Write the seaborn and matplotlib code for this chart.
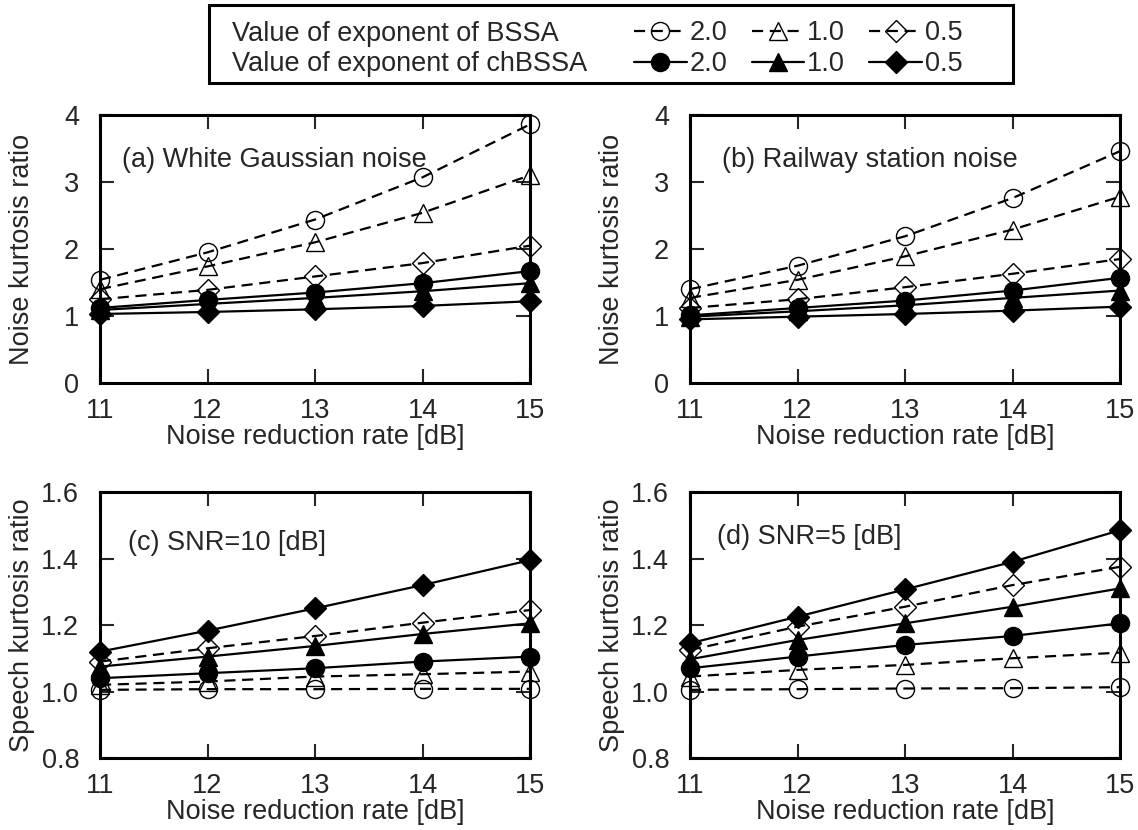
import matplotlib
matplotlib.use("Agg")
import matplotlib.pyplot as plt
from matplotlib.lines import Line2D
from matplotlib.patches import Rectangle
import pandas as pd
import seaborn as sns

# noise reduction rate [dB]
nrr = [11, 12, 13, 14, 15]

# (a) white gaussian noise - noise kurtosis ratio
a_bssa_20 = [1.54, 1.95, 2.44, 3.07, 3.86]
a_bssa_10 = [1.40, 1.74, 2.10, 2.54, 3.10]
a_bssa_05 = [1.25, 1.39, 1.59, 1.79, 2.05]
a_ch_20 = [1.12, 1.24, 1.35, 1.49, 1.67]
a_ch_10 = [1.09, 1.18, 1.27, 1.37, 1.49]
a_ch_05 = [1.03, 1.06, 1.10, 1.15, 1.22]

# (b) railway station noise - noise kurtosis ratio
b_bssa_20 = [1.40, 1.75, 2.19, 2.76, 3.46]
b_bssa_10 = [1.27, 1.54, 1.89, 2.29, 2.78]
b_bssa_05 = [1.12, 1.25, 1.43, 1.63, 1.85]
b_ch_20 = [1.01, 1.12, 1.23, 1.38, 1.57]
b_ch_10 = [0.99, 1.07, 1.16, 1.27, 1.38]
b_ch_05 = [0.95, 0.99, 1.03, 1.08, 1.14]

# (c) SNR=10 dB - speech kurtosis ratio
c_bssa_20 = [1.005, 1.007, 1.007, 1.008, 1.008]
c_bssa_10 = [1.020, 1.030, 1.045, 1.052, 1.060]
c_bssa_05 = [1.090, 1.130, 1.167, 1.207, 1.245]
c_ch_20 = [1.040, 1.055, 1.070, 1.090, 1.105]
c_ch_10 = [1.075, 1.105, 1.137, 1.173, 1.205]
c_ch_05 = [1.120, 1.183, 1.250, 1.320, 1.395]

# (d) SNR=5 dB - speech kurtosis ratio
d_bssa_20 = [1.005, 1.007, 1.009, 1.010, 1.013]
d_bssa_10 = [1.045, 1.065, 1.080, 1.100, 1.117]
d_bssa_05 = [1.125, 1.195, 1.255, 1.320, 1.375]
d_ch_20 = [1.070, 1.105, 1.140, 1.167, 1.205]
d_ch_10 = [1.097, 1.155, 1.205, 1.255, 1.310]
d_ch_05 = [1.145, 1.225, 1.307, 1.390, 1.485]

panel_titles = ["(a) White Gaussian noise", "(b) Railway station noise",
                "(c) SNR=10 [dB]", "(d) SNR=5 [dB]"]
exponents = ["2.0", "1.0", "0.5"]
legend_rows = ["Value of exponent of BSSA", "Value of exponent of chBSSA"]

panels = [
    [a_bssa_20, a_bssa_10, a_bssa_05, a_ch_20, a_ch_10, a_ch_05],
    [b_bssa_20, b_bssa_10, b_bssa_05, b_ch_20, b_ch_10, b_ch_05],
    [c_bssa_20, c_bssa_10, c_bssa_05, c_ch_20, c_ch_10, c_ch_05],
    [d_bssa_20, d_bssa_10, d_bssa_05, d_ch_20, d_ch_10, d_ch_05],
]

sns.set_style("ticks")
plt.rcParams["font.family"] = ["Liberation Sans", "DejaVu Sans"]

W, H = 1138, 830
FS = 19.5

marker_shapes = ["o", "^", "D"]
marker_sizes = [13, 13, 11]
dash = (0, (5, 3))

fig = plt.figure(figsize=(W / 100, H / 100), dpi=100)
# axes boxes in pixels: left, top, right, bottom
boxes = [(100, 115, 530, 383), (690, 115, 1120, 383),
         (100, 492, 530, 758), (690, 492, 1120, 758)]
text_pos = [(0.051, 0.832), (0.074, 0.832), (0.065, 0.81), (0.063, 0.83)]

for i, series in enumerate(panels):
    l, t, r, b = boxes[i]
    ax = fig.add_axes([l / W, 1 - b / H, (r - l) / W, (b - t) / H])
    for j, vals in enumerate(series):
        k = j % 3
        open_marker = j < 3
        df = pd.DataFrame({"x": nrr, "y": vals})
        sns.lineplot(data=df, x="x", y="y", ax=ax, color="black",
                     linewidth=1.6, linestyle=dash if open_marker else "-",
                     marker=marker_shapes[k], markersize=marker_sizes[k],
                     markerfacecolor="none" if open_marker else "black",
                     markeredgecolor="black", markeredgewidth=1.0,
                     clip_on=False, zorder=3)
    ax.set_xlim(11, 15)
    ax.set_xticks(nrr)
    if i < 2:
        ax.set_ylim(0, 4)
        ax.set_yticks([0, 1, 2, 3, 4])
        ax.set_ylabel("Noise kurtosis ratio", fontsize=FS)
    else:
        ax.set_ylim(0.8, 1.6)
        ax.set_yticks([0.8, 1.0, 1.2, 1.4, 1.6])
        ax.set_yticklabels(["0.8", "1.0", "1.2", "1.4", "1.6"])
        ax.set_ylabel("Speech kurtosis ratio", fontsize=FS)
    ax.yaxis.set_label_coords(-0.151, 0.5)
    ax.set_xlabel("Noise reduction rate [dB]", fontsize=FS, labelpad=0)
    ax.tick_params(direction="in", length=10, width=1.5, labelsize=FS,
                   top=True, right=True)
    ax.tick_params(axis="x", pad=11)
    ax.tick_params(axis="y", pad=15)
    for s in ax.spines.values():
        s.set_linewidth(2.2)
        s.set_color("black")
    ax.text(text_pos[i][0], text_pos[i][1], panel_titles[i], transform=ax.transAxes,
            fontsize=FS, va="center", ha="left")

# legend: frame and row labels drawn on the figure, markers in 3 columns
fig.patches.append(Rectangle((209 / W, 1 - 83 / H), (1013 - 209) / W, 78 / H,
                             transform=fig.transFigure, fill=False,
                             edgecolor="black", linewidth=2.2))
for r, txt in enumerate(legend_rows):
    fig.text(232 / W, 1 - (34 + 30 * r) / H, txt, fontsize=FS,
             ha="left", va="center")

handles, labels = [], []
for k in range(3):
    handles.append(Line2D([], [], color="black", linestyle=dash, linewidth=1.6,
                          marker=marker_shapes[k], markersize=marker_sizes[k],
                          markerfacecolor="none", markeredgecolor="black"))
    handles.append(Line2D([], [], color="black", linestyle="-", linewidth=1.6,
                          marker=marker_shapes[k], markersize=marker_sizes[k],
                          markerfacecolor="black", markeredgecolor="black"))
    labels += [exponents[k], exponents[k]]

fig.legend(handles, labels, ncol=3, loc="upper left",
           bbox_to_anchor=(634 / W, 1 - 20 / H), fontsize=FS, frameon=False,
           handlelength=1.95, handletextpad=0.1, columnspacing=0.9,
           labelspacing=0.2, borderpad=0, borderaxespad=0)

fig.savefig("out.png", dpi=100)
